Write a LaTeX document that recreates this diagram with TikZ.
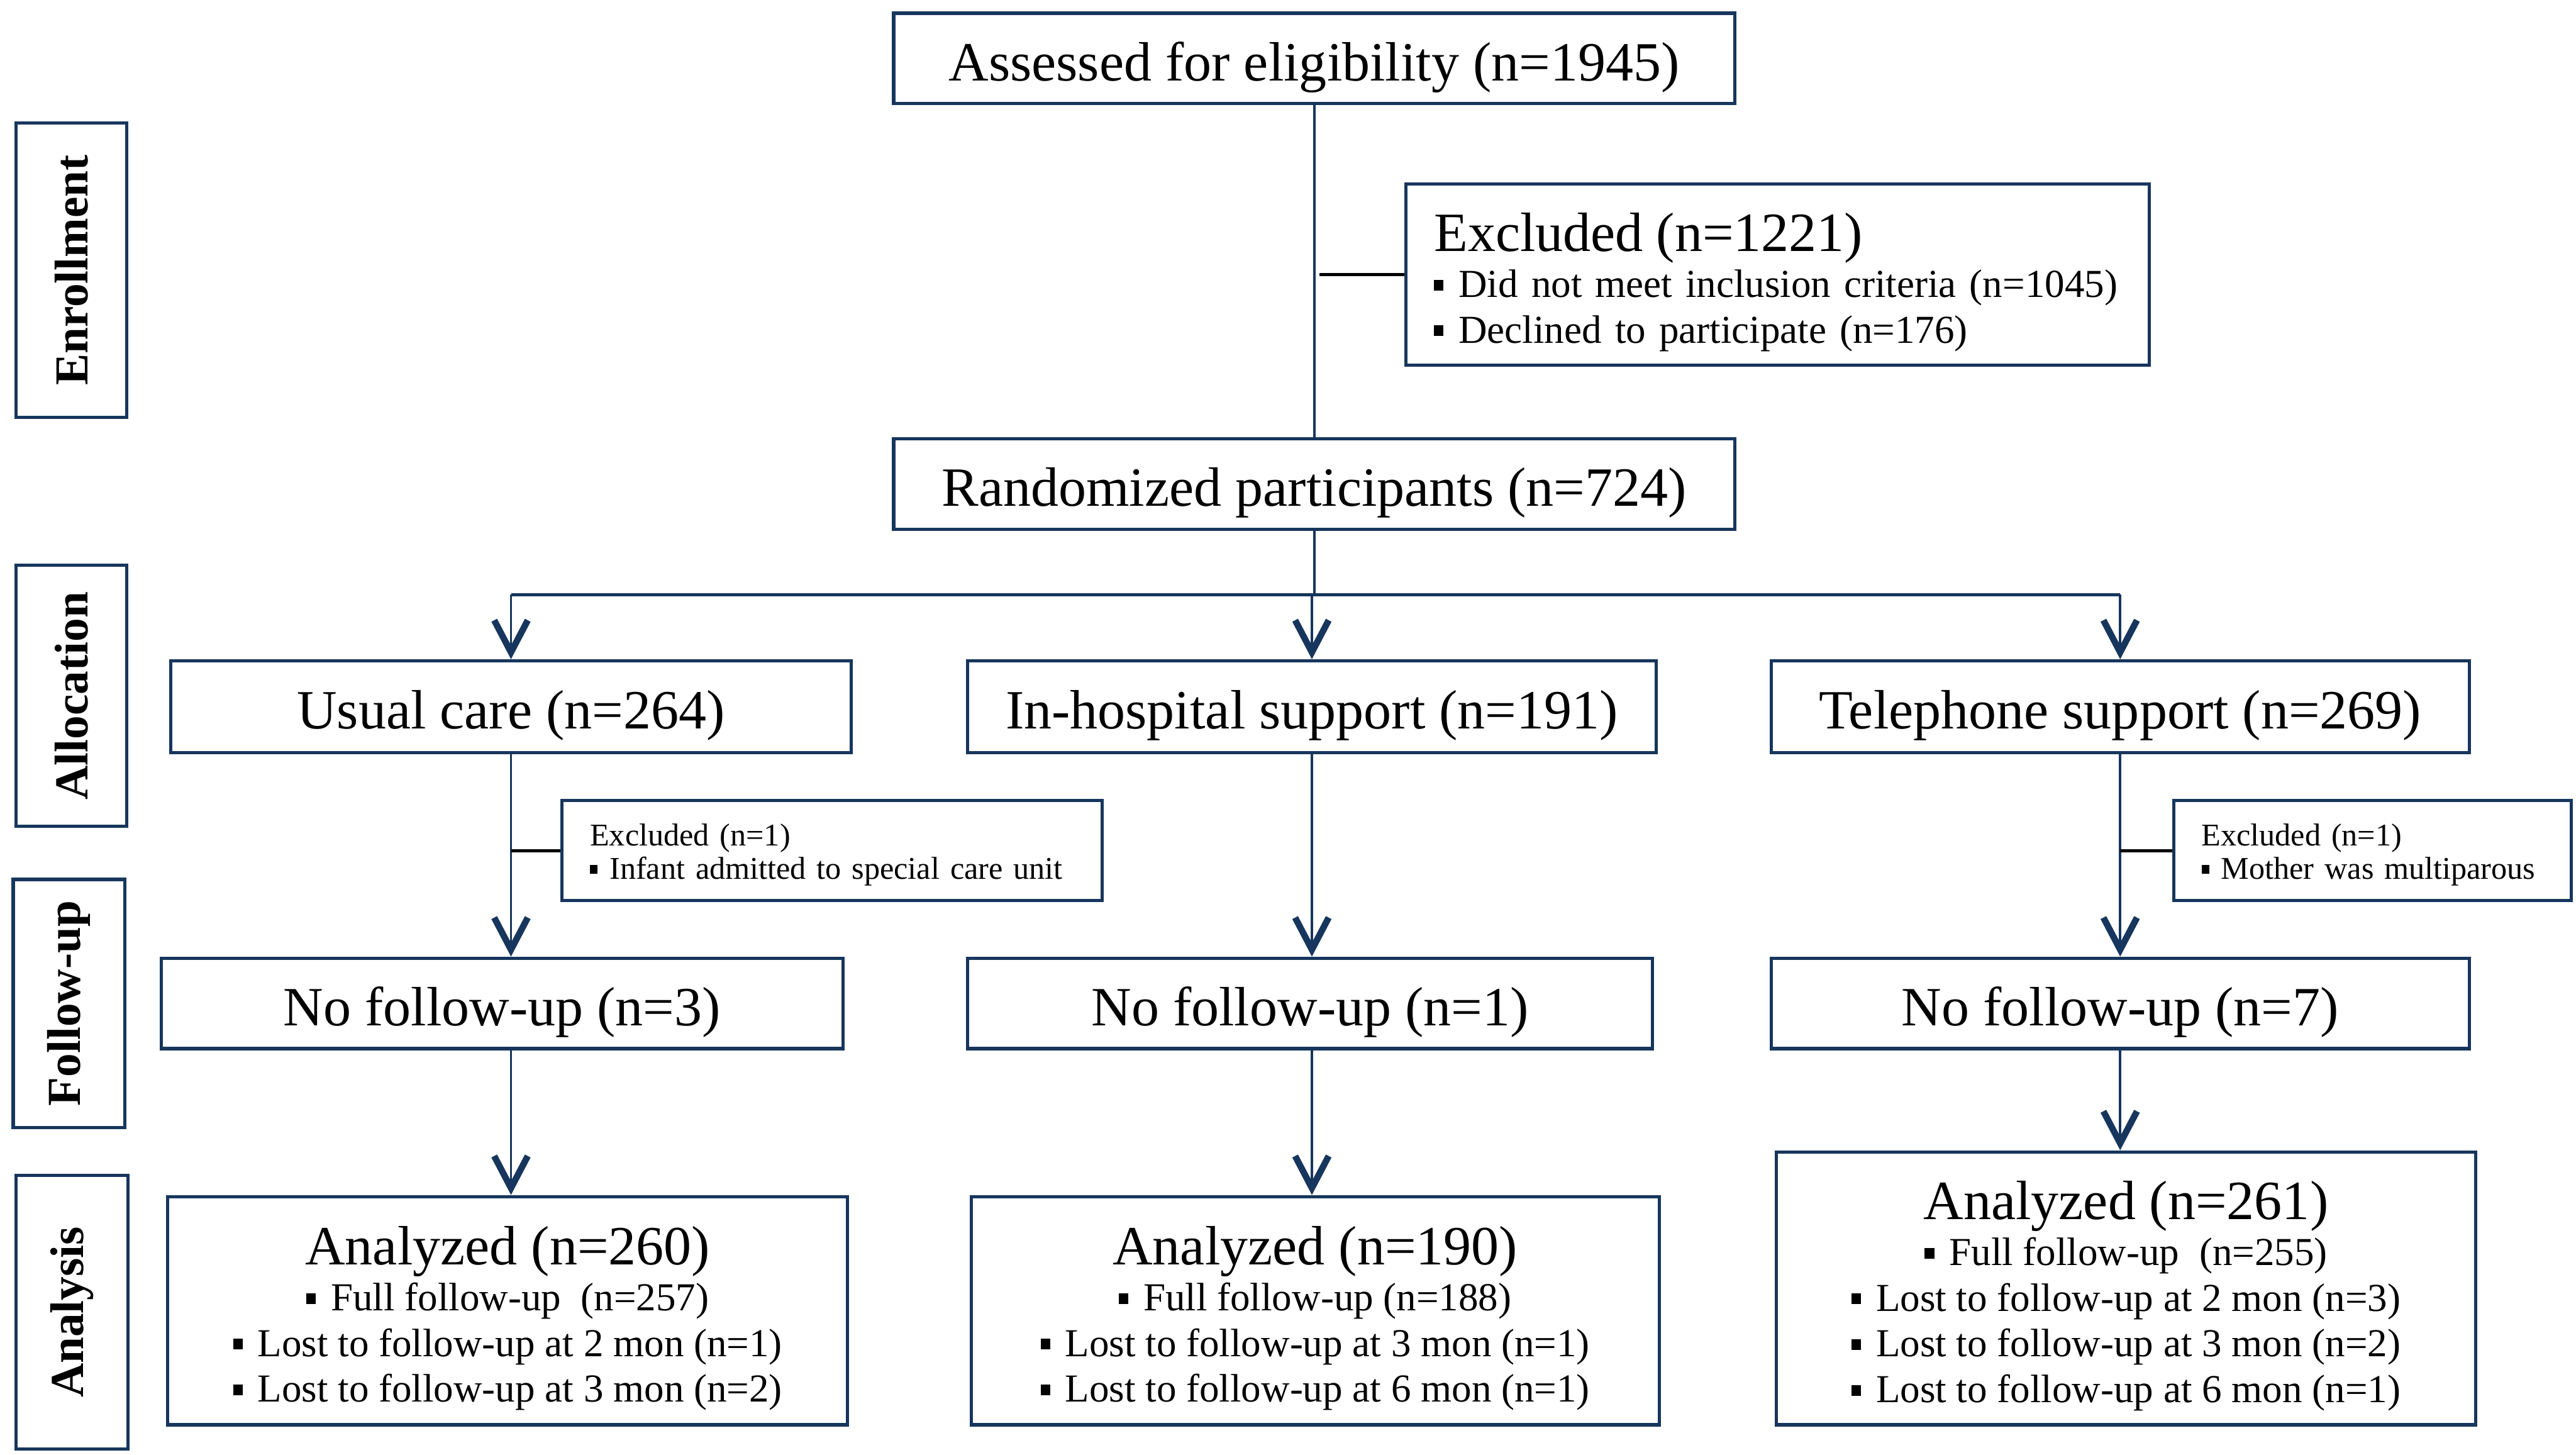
\documentclass[tikz,border=0pt]{standalone}
\usepackage{fontspec}
\setmainfont{Liberation Serif}
\usetikzlibrary{arrows.meta,positioning}
\definecolor{boxblue}{RGB}{23,54,93}
\newcommand\bigtxt{\fontsize{31}{36}\selectfont}
\newcommand\midtxt{\fontsize{22.2}{25.6}\selectfont}
\newcommand\smalltxt{\fontsize{17.7}{18.5}\selectfont}
\newcommand\sqbul{\raisebox{0.17em}{\rule{0.24em}{0.27em}}\hspace{0.38em}}
\newcommand\padbig{\rule{0pt}{1.06cm}}
\newcommand\padsmall{\rule{0pt}{0.59cm}}

\begin{document}
\begin{tikzpicture}[x=1cm,y=-1cm,
  box/.style={draw=boxblue,line width=1.8pt,rectangle,inner sep=0pt},
  bigbox/.style={box,font=\bigtxt,text height=1.06cm,text depth=0.19cm},
  phase/.style={box,font=\fontsize{26.5}{30}\selectfont\bfseries,rotate=90},
  link/.style={draw=boxblue,line width=1.4pt},
  arr/.style={link,-{Straight Barb[length=6.3mm,width=6.6mm,line width=3.6pt]}},
  side/.style={black,line width=1.7pt}]
\useasboundingbox (0,0) rectangle (50.69,28.62);

\node[phase,minimum width=5.79cm,minimum height=2.17cm] (enrol) at (1.405,5.315) {Enrollment};
\node[phase,minimum width=5.14cm,minimum height=2.17cm] (alloc) at (1.405,13.69) {Allocation};
\node[phase,minimum width=4.88cm,minimum height=2.20cm] (follow) at (1.36,19.74) {Follow-up};
\node[phase,minimum width=5.39cm,minimum height=2.20cm] (anlys) at (1.42,25.815) {Analysis};

\node[bigbox,minimum width=16.55cm,minimum height=1.78cm] (assess) at (25.86,1.15) {Assessed for eligibility (n=1945)};
\node[box,minimum width=14.62cm,minimum height=3.56cm,text width=13.52cm,inner xsep=0.55cm,align=left,font=\midtxt] (excl) at (34.98,5.40)
  {{\bigtxt\padbig Excluded (n=1221)}\\ \sqbul Did not meet inclusion criteria (n=1045)\\ \sqbul Declined to participate (n=176)};
\node[bigbox,minimum width=16.55cm,minimum height=1.78cm] (rand) at (25.86,9.52) {Randomized participants (n=724)};
\coordinate (split) at (25.86,11.70);

\node[bigbox,minimum width=13.39cm,minimum height=1.81cm] (usual) at (10.055,13.905) {Usual care (n=264)};
\node[bigbox,minimum width=13.55cm,minimum height=1.81cm] (hosp) at (25.815,13.905) {In-hospital support (n=191)};
\node[bigbox,minimum width=13.74cm,minimum height=1.81cm] (phone) at (41.72,13.905) {Telephone support (n=269)};

\node[box,minimum width=10.63cm,minimum height=1.97cm,text width=9.53cm,inner xsep=0.55cm,align=left,font=\smalltxt] (exL) at (16.375,16.735)
  {\padsmall Excluded (n=1)\\ \sqbul Infant admitted to special care unit};
\node[box,minimum width=7.83cm,minimum height=1.97cm,text width=6.73cm,inner xsep=0.55cm,align=left,font=\smalltxt] (exR) at (46.685,16.735)
  {\padsmall Excluded (n=1)\\ \sqbul\mbox{Mother was multiparous}};

\node[bigbox,minimum width=13.42cm,minimum height=1.78cm] (fuL) at (9.88,19.74) {No follow-up (n=3)};
\node[bigbox,minimum width=13.48cm,minimum height=1.78cm] (fuM) at (25.78,19.74) {No follow-up (n=1)};
\node[bigbox,minimum width=13.74cm,minimum height=1.78cm] (fuR) at (41.72,19.74) {No follow-up (n=7)};

\node[box,minimum width=13.38cm,minimum height=4.49cm,align=center,font=\midtxt] (anL) at (9.99,25.785)
  {{\bigtxt\padbig Analyzed (n=260)}\\ \sqbul Full follow-up\ \ (n=257)\\ \sqbul Lost to follow-up at 2 mon (n=1)\\ \sqbul Lost to follow-up at 3 mon (n=2)};
\node[box,minimum width=13.54cm,minimum height=4.49cm,align=center,font=\midtxt] (anM) at (25.88,25.785)
  {{\bigtxt\padbig Analyzed (n=190)}\\ \sqbul Full follow-up (n=188)\\ \sqbul Lost to follow-up at 3 mon (n=1)\\ \sqbul Lost to follow-up at 6 mon (n=1)};
\node[box,minimum width=13.77cm,minimum height=5.37cm,align=center,font=\midtxt] (anR) at (41.835,25.345)
  {{\bigtxt\padbig Analyzed (n=261)}\\ \sqbul Full follow-up\ \ (n=255)\\ \sqbul Lost to follow-up at 2 mon (n=3)\\ \sqbul Lost to follow-up at 3 mon (n=2)\\ \sqbul Lost to follow-up at 6 mon (n=1)};

\draw[link] (assess) -- (rand);
\draw[side] ([xshift=0.1cm]assess.south |- excl.west) -- (excl.west);
\draw[link] (rand) -- (split);
\draw[link,line width=1.8pt] (usual.north |- split) -- (phone.north |- split);
\foreach \n in {usual,hosp,phone}
  \draw[arr] (\n.north |- split) -- (\n.north);

\draw[arr] (usual) -- (usual.south |- fuL.north);
\draw[side] (usual.south |- exL.west) -- (exL.west);
\draw[arr] (hosp) -- (hosp.south |- fuM.north);
\draw[arr] (phone) -- (phone.south |- fuR.north);
\draw[side] (phone.south |- exR.west) -- (exR.west);

\draw[arr] (fuL.south -| usual.south) -- (anL.north -| usual.south);
\draw[arr] (fuM.south -| hosp.south) -- (anM.north -| hosp.south);
\draw[arr] (fuR.south -| phone.south) -- (anR.north -| phone.south);
\end{tikzpicture}
\end{document}
